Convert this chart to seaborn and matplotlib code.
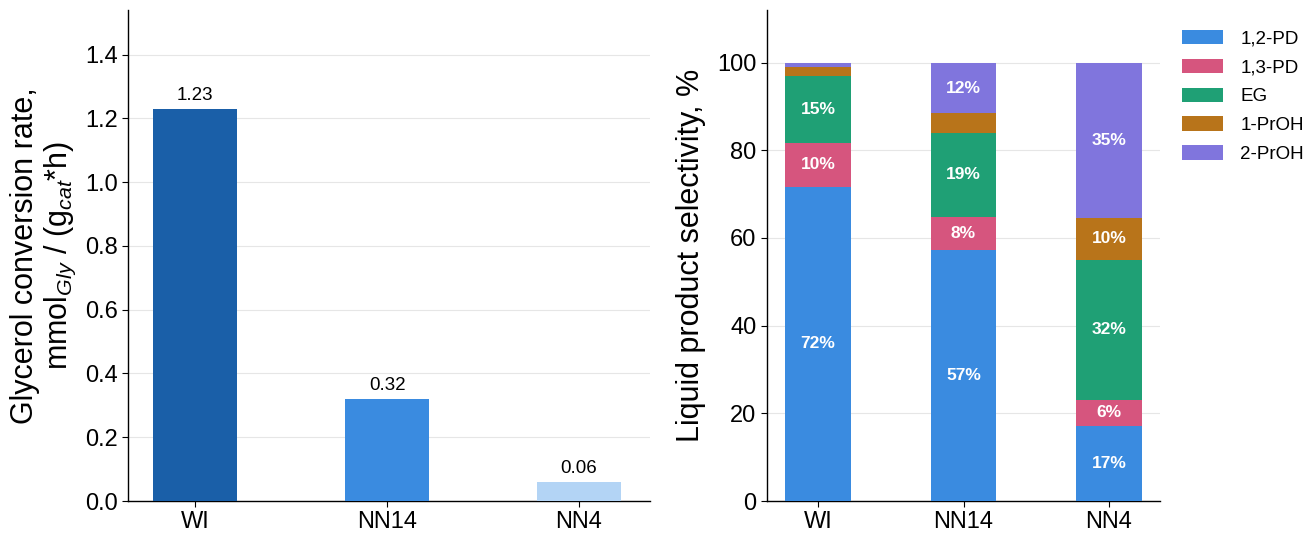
import pandas as pd
import numpy as np
import seaborn as sns
import matplotlib.pyplot as plt

# Data
catalysts = ["WI", "NN14", "NN4"]
conv_rate = [1.23, 0.32, 0.06]
conv_colors = ["#1a5fa8", "#3a8be0", "#b3d4f5"]

products = ["1,2-PD", "1,3-PD", "EG", "1-PrOH", "2-PrOH"]
sel_12pd = [71.7, 57.3, 17.1]
sel_13pd = [10.0, 7.5, 6.0]
sel_eg = [15.3, 19.2, 31.9]
sel_1proh = [1.9, 4.4, 9.6]
sel_2proh = [1.1, 11.6, 35.4]
prod_colors = ["#3a8be0", "#d6557e", "#1fa075", "#b8741a", "#8075dd"]

sns.set_style("white")
plt.rcParams["font.family"] = ["Liberation Sans", "DejaVu Sans"]
plt.rcParams["text.color"] = "black"
plt.rcParams["axes.labelcolor"] = "black"
plt.rcParams["xtick.color"] = "black"
plt.rcParams["ytick.color"] = "black"
plt.rcParams["mathtext.fontset"] = "custom"
plt.rcParams["mathtext.rm"] = "Liberation Sans"
plt.rcParams["mathtext.it"] = "Liberation Sans:italic"

fig = plt.figure(figsize=(13.15, 5.4), dpi=100)
ax1 = fig.add_axes([128 / 1315, 39 / 540, 522 / 1315, 491 / 540])
ax2 = fig.add_axes([767 / 1315, 39 / 540, 393 / 1315, 491 / 540])

# Left: conversion rate
df1 = pd.DataFrame({"cat": catalysts, "rate": conv_rate})
sns.barplot(data=df1, x="cat", y="rate", hue="cat", palette=conv_colors,
            width=0.44, legend=False, ax=ax1, zorder=3, linewidth=0, saturation=1)
for i, v in enumerate(conv_rate):
    ax1.text(i, v + 0.015, f"{v:.2f}", ha="center", va="bottom", fontsize=13.5)
ax1.set_ylim(0, 1.54)
ax1.set_xlim(-0.35, 2.37)
ax1.set_yticks(np.arange(0, 1.41, 0.2))
ax1.set_xlabel("")
ax1.set_ylabel("Glycerol conversion rate,\nmmol$_{Gly}$ / (g$_{cat}$*h)", fontsize=22,
               labelpad=5, linespacing=1.1)
ax1.yaxis.grid(True, color="#e6e6e6", linewidth=0.8, zorder=0)

# Right: stacked selectivity
df2 = pd.DataFrame({"cat": catalysts, "1,2-PD": sel_12pd, "1,3-PD": sel_13pd,
                    "EG": sel_eg, "1-PrOH": sel_1proh, "2-PrOH": sel_2proh})
cum = df2[products].cumsum(axis=1)
for j in range(len(products) - 1, -1, -1):
    p = products[j]
    sns.barplot(x=df2["cat"], y=cum[p], color=prod_colors[j], width=0.45,
                ax=ax2, label=p, zorder=3, saturation=1, linewidth=0)
    for i in range(len(catalysts)):
        val = df2[p][i]
        if val >= 5:
            ax2.text(i, cum[p][i] - val / 2, f"{val:.0f}%", ha="center",
                     va="center", color="white", fontweight="bold", fontsize=12.5)
ax2.set_ylim(0, 112)
ax2.set_xlim(-0.35, 2.35)
ax2.set_xlabel("")
ax2.set_ylabel("Liquid product selectivity, %", fontsize=22, labelpad=8)
ax2.yaxis.grid(True, color="#e6e6e6", linewidth=0.8, zorder=0)
handles, labels = ax2.get_legend_handles_labels()
ax2.legend(handles[::-1], labels[::-1], loc="upper left", bbox_to_anchor=(1.056, 0.96),
           frameon=False, fontsize=13.5, handlelength=2.2, handleheight=0.8,
           handletextpad=0.9, labelspacing=0.6, borderaxespad=0, borderpad=0)

for ax in (ax1, ax2):
    sns.despine(ax=ax)
    ax.tick_params(axis="both", labelsize=17, length=4, color="black", left=True, bottom=True)
    for s in ("left", "bottom"):
        ax.spines[s].set_color("black")
        ax.spines[s].set_linewidth(1.0)

plt.savefig("out.png", dpi=100)
